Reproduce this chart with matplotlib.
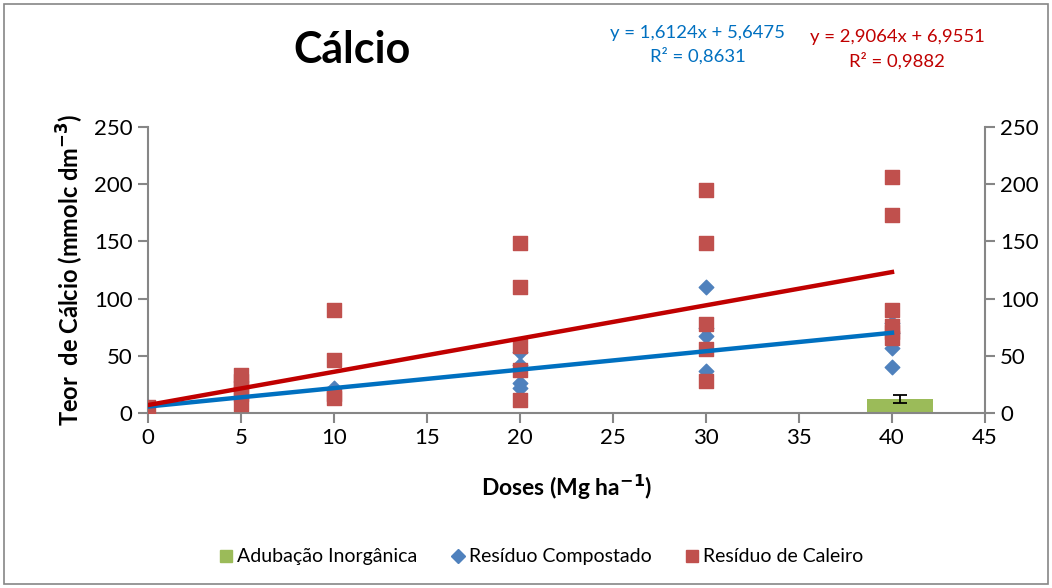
import numpy as np
import matplotlib.pyplot as plt
from matplotlib.patches import Rectangle
from matplotlib.lines import Line2D

plt.rcParams['font.family'] = ['Lato', 'DejaVu Sans']

# Resíduo Compostado (blue diamonds)
comp_x = [0, 10, 20, 20, 20, 20, 30, 30, 30, 30, 40, 40, 40, 40]
comp_y = [5.6, 22, 53, 42, 26, 22, 110, 74, 67, 37, 79, 70, 57, 40]

# Resíduo de Caleiro (red squares)
cal_x = [0, 5, 5, 5, 5, 5, 10, 10, 10, 10, 20, 20, 20, 20, 20,
         30, 30, 30, 30, 30, 40, 40, 40, 40, 40, 40]
cal_y = [5, 33, 28, 22, 17, 8, 90, 46, 17, 13, 149, 110, 59, 38, 11,
         195, 149, 78, 56, 28, 206, 173, 90, 76, 71, 66]

# Adubação Inorgânica (single bar with error)
inorg_x = [40.43]
inorg_y = [12.2]
inorg_err = [3.3]

# trend lines as printed on the chart
comp_fit = (1.6124, 5.6475)
cal_fit = (2.9064, 6.9551)
fit_x = np.array([0, 40])

fig = plt.figure(figsize=(10.52, 5.88), dpi=100)
fig.add_artist(Rectangle((0.004, 0.006), 0.992, 0.988, transform=fig.transFigure,
                         fill=False, edgecolor='#868686', linewidth=1.2))
ax = fig.add_axes([0.1407, 0.2976, 0.7956, 0.4864])

ax.bar(inorg_x, inorg_y, width=3.55, color='#9BBB59', zorder=2)
ax.errorbar(inorg_x, inorg_y, yerr=inorg_err, fmt='none', ecolor='black',
            elinewidth=1.3, capsize=5, capthick=1.3, zorder=3)
ax.scatter(comp_x, comp_y, marker='D', s=55, color='#4F81BD', zorder=3)
ax.scatter(cal_x, cal_y, marker='s', s=95, color='#C0504D', zorder=4)
ax.plot(fit_x, comp_fit[0] * fit_x + comp_fit[1], color='#0070C0', lw=3.2, zorder=5)
ax.plot(fit_x, cal_fit[0] * fit_x + cal_fit[1], color='#C00000', lw=3.2, zorder=5)

ax.set_xlim(0, 45)
ax.set_ylim(0, 250)
ax.set_xticks(range(0, 50, 5))
ax.set_yticks(range(0, 300, 50))
ax.spines['top'].set_visible(False)
for s in ['left', 'right', 'bottom']:
    ax.spines[s].set_color('#868686')
    ax.spines[s].set_linewidth(1.5)
ax.tick_params(axis='both', direction='out', length=7, width=1.5, color='#868686',
               labelsize=16, pad=4)
ax.tick_params(axis='y', right=True, labelright=True)
ax.set_xlabel('Doses (Mg ha$^{\\mathbf{-1}}$)', fontsize=16.5, fontweight='bold', labelpad=18)
ax.set_ylabel('Teor  de Cálcio (mmolc dm$^{\\mathbf{-3}}$)', fontsize=17,
              fontweight='bold', labelpad=6)

fig.text(0.335, 0.915, 'Cálcio', fontsize=31, fontweight='bold', ha='center', va='center')
fig.text(0.663, 0.924, 'y = 1,6124x + 5,6475\nR² = 0,8631', color='#0070C0',
         fontsize=13.3, ha='center', va='center', linespacing=1.45)
fig.text(0.853, 0.916, 'y = 2,9064x + 6,9551\nR² = 0,9882', color='#C00000',
         fontsize=13.3, ha='center', va='center', linespacing=1.45)

handles = [
    Line2D([], [], ls='none', marker='s', ms=9, color='#9BBB59'),
    Line2D([], [], ls='none', marker='D', ms=7.5, color='#4F81BD'),
    Line2D([], [], ls='none', marker='s', ms=9, color='#C0504D'),
]
labels = ['Adubação Inorgânica', 'Resíduo Compostado', 'Resíduo de Caleiro']
fig.legend(handles, labels, loc='center', bbox_to_anchor=(0.513, 0.053), ncol=3,
           frameon=False, fontsize=14, handletextpad=0.05, columnspacing=1.6,
           handlelength=1.0)

fig.savefig('out.png', dpi=100)
